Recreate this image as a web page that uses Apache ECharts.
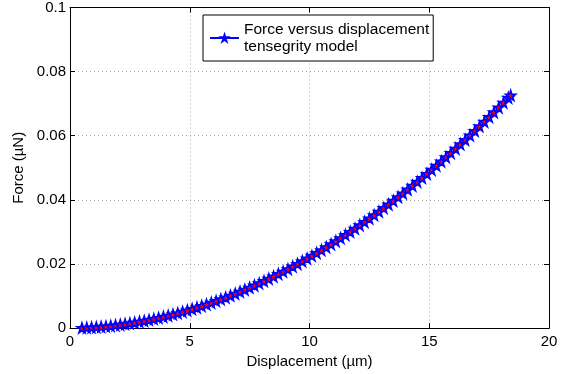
<!DOCTYPE html>
<html>
<head>
<meta charset="utf-8">
<script src="https://cdn.jsdelivr.net/npm/echarts@6/dist/echarts.min.js"></script>
<style>
html,body{margin:0;padding:0;background:#fff;}
#chart{width:565px;height:374px;}
</style>
</head>
<body>
<div id="chart"></div>
<script>
// ---- data ----
var displacement = [0.5,0.7,0.9,1.1,1.3,1.5,1.7,1.9,2.1,2.3,2.5,2.7,2.9,3.1,3.3,3.5,3.7,3.9,4.1,4.3,4.5,4.7,4.9,5.1,5.3,5.5,5.7,5.9,6.1,6.3,6.5,6.7,6.9,7.1,7.3,7.5,7.7,7.9,8.1,8.3,8.5,8.7,8.9,9.1,9.3,9.5,9.7,9.9,10.1,10.3,10.5,10.7,10.9,11.1,11.3,11.5,11.7,11.9,12.1,12.3,12.5,12.7,12.9,13.1,13.3,13.5,13.7,13.9,14.1,14.3,14.5,14.7,14.9,15.1,15.3,15.5,15.7,15.9,16.1,16.3,16.5,16.7,16.9,17.1,17.3,17.5,17.7,17.9,18.1,18.3,18.4];
var force = [0.00006,0.00012,0.00020,0.00030,0.00041,0.00055,0.00070,0.00087,0.00105,0.00126,0.00148,0.00172,0.00198,0.00225,0.00254,0.00285,0.00318,0.00352,0.00389,0.00426,0.00466,0.00507,0.00550,0.00595,0.00641,0.00689,0.00739,0.00790,0.00843,0.00898,0.00954,0.01012,0.01072,0.01134,0.01197,0.01261,0.01328,0.01396,0.01466,0.01537,0.01610,0.01685,0.01761,0.01839,0.01919,0.02000,0.02083,0.02168,0.02254,0.02341,0.02431,0.02522,0.02615,0.02709,0.02805,0.02903,0.03002,0.03103,0.03206,0.03310,0.03416,0.03523,0.03632,0.03743,0.03855,0.03969,0.04084,0.04201,0.04320,0.04440,0.04562,0.04686,0.04811,0.04938,0.05066,0.05196,0.05327,0.05461,0.05595,0.05732,0.05870,0.06009,0.06150,0.06293,0.06437,0.06583,0.06730,0.06880,0.07030,0.07183,0.07259];
var xTickLabels = ['0','5','10','15','20'];
var yTickLabels = ['0','0.02','0.04','0.06','0.08','0.1'];
var seriesName = 'Force versus displacement\ntensegrity model';
var xTitle = 'Displacement (\u00b5m)';
var yTitle = 'Force (\u00b5N)';

var FONT = 'Liberation Sans, Arial, Helvetica, sans-serif';
var star = 'path://M0,-10 L2.245,-3.09 L9.511,-3.09 L3.633,1.18 L5.878,8.09 L0,3.82 L-5.878,8.09 L-3.633,1.18 L-9.511,-3.09 L-2.245,-3.09 Z';

var pts = displacement.map(function(x,i){ return [x, force[i]]; });

var chart = echarts.init(document.getElementById('chart'), null, {renderer:'canvas'});
function xl(v){ var i=Math.round(v/5); return xTickLabels[i]!==undefined?xTickLabels[i]:''; }
function yl(v){ var i=Math.round(v/0.02); return yTickLabels[i]!==undefined?yTickLabels[i]:''; }

var baseAxisLine = {show:true, onZero:false, lineStyle:{color:'#000', width:1}};
var tick = {show:true, inside:true, length:5, lineStyle:{color:'#000', width:1}};
var grid = {show:true, lineStyle:{color:'#a8a8a8', width:1, type:[1,3]}};

chart.setOption({
  animation:false,
  backgroundColor:'#fff',
  textStyle:{fontFamily:FONT},
  grid:{left:70, right:16, top:7, bottom:45, containLabel:false},
  xAxis:[{
    type:'value', min:0, max:20, interval:5, position:'bottom',
    axisLine:baseAxisLine, axisTick:tick, splitLine:grid,
    axisLabel:{formatter:xl, color:'#000', fontSize:15, fontFamily:FONT, margin:6},
    name:xTitle, nameLocation:'middle', nameGap:14,
    nameTextStyle:{color:'#000', fontSize:15, fontFamily:FONT}
  },{
    type:'value', min:0, max:20, interval:5, position:'top',
    axisLine:baseAxisLine, axisTick:tick, splitLine:{show:false}, axisLabel:{show:false}
  }],
  yAxis:[{
    type:'value', min:0, max:0.1, interval:0.02, position:'left',
    axisLine:baseAxisLine, axisTick:tick, splitLine:grid,
    axisLabel:{formatter:yl, color:'#000', fontSize:15, fontFamily:FONT, margin:4},
    name:yTitle, nameLocation:'middle', nameGap:33, nameRotate:90,
    nameTextStyle:{color:'#000', fontSize:15, fontFamily:FONT}
  },{
    type:'value', min:0, max:0.1, interval:0.02, position:'right',
    axisLine:baseAxisLine, axisTick:tick, splitLine:{show:false}, axisLabel:{show:false}
  }],
  legend:{
    show:true, left:203, top:15, orient:'vertical',
    padding:[6,4,6,6], itemWidth:29, itemHeight:8, itemGap:0,
    backgroundColor:'#fff', borderColor:'#000', borderWidth:1, borderRadius:0,
    textStyle:{color:'#000', fontSize:15.5, fontFamily:FONT, lineHeight:17},
    data:[{name:seriesName}]
  },
  series:[{
    name:seriesName, type:'line', data:pts,
    showSymbol:true, showAllSymbol:true, symbol:star, symbolSize:10,
    lineStyle:{color:'#0000ff', width:1},
    itemStyle:{color:'#ff0000', borderColor:'#0000ff', borderWidth:1.6},
    z:3
  }]
});
</script>
</body>
</html>
